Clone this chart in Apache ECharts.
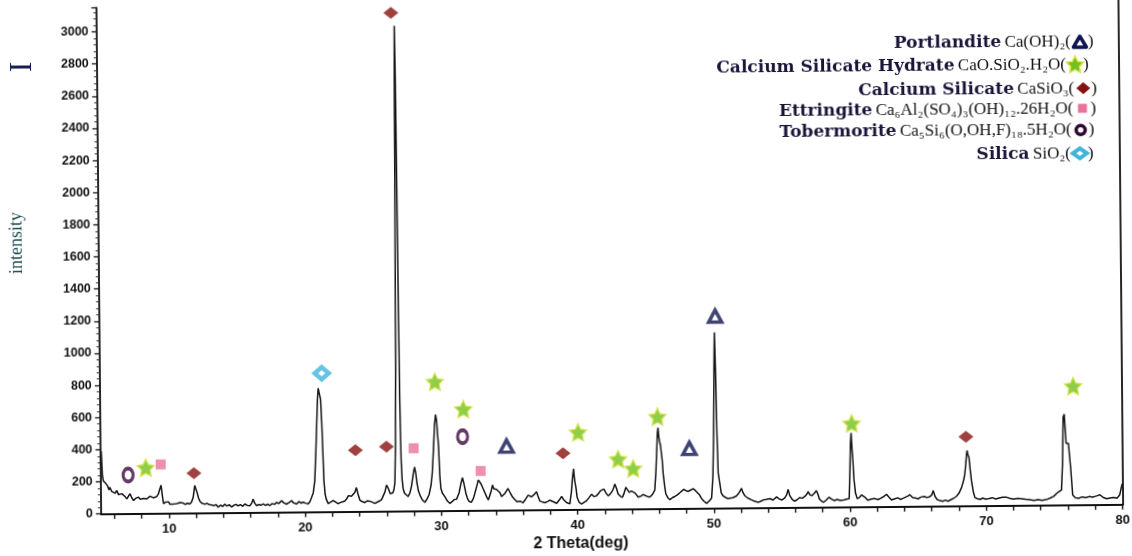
<!DOCTYPE html>
<html>
<head>
<meta charset="utf-8">
<script src="https://cdn.jsdelivr.net/npm/echarts/dist/echarts.min.js"></script>
<style>
  html, body { margin: 0; padding: 0; background: #fff; overflow: hidden; }
  /* the scanned diffractogram sits slightly tilted on the page */
  #xrd { width: 1132px; height: 556px; transform: rotate(-0.53deg); transform-origin: 566px 278px; }
</style>
</head>
<body>
<div id="xrd"></div>
<script>
// Diffraction angle (2θ, degrees) and measured intensity (counts)
const twoTheta = [
  5.00,5.06,5.13,5.20,5.27,5.38,5.50,5.60,5.68,5.80,5.93,6.05,6.17,6.30,6.42,6.55,6.67,6.80,6.91,7.03,7.15,7.28,7.40,7.55,7.65,7.77,7.90,8.01,8.15,8.28,8.38,8.50,8.62,8.74,8.86,8.98,9.10,9.22,9.33,9.43,9.52,9.60,9.75,9.87,9.97,
  10.07,10.20,10.33,10.45,10.58,10.70,10.80,10.92,11.05,11.20,11.35,11.53,11.66,11.78,11.90,11.98,12.07,12.17,12.27,12.40,12.52,12.64,12.80,12.95,13.13,13.30,13.45,13.61,13.78,13.95,14.10,14.25,14.42,14.60,14.75,14.92,15.08,15.25,15.42,15.57,15.75,15.94,16.08,16.18,16.30,16.43,16.60,16.75,16.92,17.10,17.25,17.41,17.58,17.75,17.90,18.05,18.18,18.27,18.45,18.63,18.80,19.00,19.15,19.37,19.55,19.70,19.85,
  20.05,20.22,20.35,20.47,20.60,20.72,20.82,20.90,20.97,21.03,21.09,21.14,21.20,21.27,21.33,21.39,21.47,21.55,21.69,21.85,22.06,22.20,22.42,22.60,22.75,22.91,23.05,23.18,23.28,23.40,23.52,23.65,23.77,23.88,24.02,24.20,24.38,24.55,24.75,24.93,25.12,25.24,25.38,25.48,25.60,25.73,25.86,25.98,26.07,26.15,26.25,26.34,26.44,26.52,26.60,26.67,26.73,26.79,26.83,26.86,26.90,26.95,27.01,27.07,27.13,27.20,27.30,27.42,27.56,27.70,27.81,27.95,28.05,28.13,28.22,28.32,28.42,28.60,28.79,28.95,29.10,29.25,29.35,29.45,29.55,29.63,29.70,29.76,29.83,29.90,29.97,
  30.08,30.26,30.45,30.62,30.80,30.95,31.12,31.30,31.45,31.56,31.66,31.80,31.92,32.04,32.20,32.35,32.46,32.60,32.72,32.83,32.95,33.07,33.20,33.32,33.45,33.56,33.66,33.76,33.85,33.93,34.05,34.17,34.30,34.42,34.55,34.66,34.78,34.90,35.05,35.23,35.40,35.57,35.80,36.00,36.20,36.37,36.50,36.62,36.80,36.99,37.10,37.23,37.40,37.60,37.80,37.95,38.09,38.28,38.46,38.65,38.83,39.00,39.19,39.33,39.43,39.55,39.63,39.72,39.80,39.88,39.97,
  40.12,40.29,40.48,40.66,40.85,41.03,41.20,41.39,41.55,41.69,41.82,41.93,42.10,42.25,42.40,42.57,42.66,42.74,42.86,42.98,43.15,43.30,43.42,43.55,43.67,43.79,43.95,44.08,44.22,44.45,44.65,44.80,44.94,45.12,45.31,45.50,45.67,45.76,45.83,45.90,45.95,46.00,46.05,46.12,46.19,46.24,46.30,46.40,46.48,46.62,46.78,46.95,47.14,47.30,47.51,47.65,47.80,47.95,48.12,48.30,48.49,48.65,48.78,48.95,49.10,49.28,49.47,49.65,49.84,49.95,
  50.03,50.09,50.15,50.21,50.27,50.34,50.45,50.55,50.69,50.90,51.05,51.18,51.40,51.67,51.85,51.96,52.04,52.15,52.28,52.50,52.77,53.00,53.26,53.45,53.63,53.85,54.12,54.35,54.61,54.80,55.00,55.20,55.35,55.46,55.58,55.75,55.92,56.10,56.30,56.50,56.70,56.85,56.93,57.05,57.20,57.38,57.54,57.65,57.75,57.90,58.05,58.25,58.45,58.65,58.85,59.05,59.30,59.55,59.75,59.94,
  60.02,60.07,60.12,60.18,60.24,60.30,60.40,60.53,60.70,60.85,60.97,61.10,61.30,61.55,61.80,62.05,62.30,62.50,62.68,62.85,63.05,63.25,63.50,63.70,63.90,64.10,64.25,64.40,64.60,64.80,65.00,65.20,65.45,65.65,65.85,66.00,66.11,66.25,66.40,66.60,66.80,67.00,67.20,67.40,67.60,67.83,68.00,68.19,68.35,68.44,68.52,68.58,68.62,68.68,68.76,68.85,68.93,69.05,69.17,69.35,69.55,69.75,69.95,
  70.20,70.45,70.70,70.95,71.20,71.50,71.75,72.00,72.30,72.60,72.90,73.20,73.50,73.80,74.10,74.40,74.70,74.95,75.17,75.35,75.53,75.62,75.70,75.78,75.84,75.90,76.00,76.07,76.15,76.22,76.35,76.55,76.80,77.05,77.30,77.55,77.80,78.10,78.35,78.60,78.85,79.10,79.35,79.60,79.80,79.94,80.00
];
const intensity = [
  300,390,240,205,208,189,175,150,165,140,134,128,145,120,113,125,134,105,92,110,124,98,82,95,88,103,90,82,95,86,92,100,108,113,98,92,105,120,150,176,110,61,70,66,72,
  57,64,58,66,60,70,67,58,63,55,62,57,70,97,172,160,128,95,75,62,70,55,60,52,50,45,52,36,48,40,54,42,50,36,46,52,43,50,40,54,45,43,60,84,58,43,50,46,53,44,52,43,55,50,62,55,66,72,58,51,60,72,58,51,66,56,62,
  55,51,65,90,120,195,380,552,700,770,765,780,700,552,380,195,110,80,52,60,71,60,50,58,62,67,80,100,109,96,99,120,150,110,71,62,56,66,64,58,50,51,62,67,72,82,120,164,150,133,110,102,115,133,180,420,900,1900,2700,3020,2700,1700,700,330,200,140,112,100,91,115,153,230,274,240,174,125,102,70,54,75,101,160,236,380,540,600,560,480,400,220,140,
  110,88,60,46,58,70,72,110,171,205,170,109,75,57,52,75,107,150,190,177,160,148,110,86,65,65,120,158,135,127,130,139,110,86,92,104,120,135,110,82,65,52,55,46,70,92,95,82,95,113,85,55,50,45,52,60,55,48,40,60,82,60,45,42,36,110,190,255,180,140,76,
  45,34,45,55,75,95,80,85,100,116,110,126,100,85,95,116,135,157,130,95,80,74,100,136,120,105,112,120,100,74,80,90,84,78,74,90,115,220,340,470,505,450,420,395,384,300,218,140,93,70,56,68,76,85,99,110,120,112,107,115,123,112,103,85,62,45,32,45,63,200,
  460,820,1095,860,480,220,155,95,76,65,60,56,65,76,95,110,123,95,76,62,50,42,35,42,49,52,57,48,67,55,48,60,80,114,75,52,40,48,62,58,70,85,98,80,73,88,104,80,52,40,31,45,62,50,42,48,42,45,50,52,
  250,400,462,360,280,176,90,52,60,75,83,60,42,48,52,45,55,65,77,60,42,48,55,45,52,60,66,73,55,52,48,58,62,55,60,70,98,60,42,35,31,38,31,40,48,62,80,114,160,197,260,320,345,320,301,220,156,90,52,45,40,48,42,
  45,50,42,48,52,52,45,40,45,42,38,35,31,36,31,35,45,55,73,85,94,250,549,565,470,384,390,384,300,228,62,45,42,50,45,52,48,55,62,45,37,42,45,40,60,114,130
];

// Peak assignments: [2θ, height of the marker]
const portlandite    = [[34.82, 399], [48.24, 374], [50.22, 1196]];
const cshHydrate     = [[8.32, 286], [29.60, 804], [31.67, 632], [40.08, 481], [43.00, 312], [44.10, 253], [45.92, 573], [60.17, 521], [76.45, 740]];
const calciumSilicate= [[11.85, 248], [23.72, 383], [26.00, 402], [26.62, 3101], [38.96, 351], [68.55, 431]];
const ettringite     = [[9.42, 305], [28.00, 391], [32.90, 246]];
const tobermorite    = [[7.02, 241], [31.60, 460]];
const silica         = [[21.30, 863]];

// Axis tick values
const yTickStep = 200;
const xLabelStep = 10;

const pattern = twoTheta.map((t, i) => [t, intensity[i]]);

const STAR = 'path://M50 0 L64.7 29.8 L97.6 34.5 L73.8 57.7 L79.4 90.5 L50 75 L20.6 90.5 L26.2 57.7 L2.4 34.5 L35.3 29.8 Z';

const markStyles = {
  triangle: { symbol: 'triangle', symbolSize: [13, 12], itemStyle: { color: '#ffffff', borderColor: '#0f1450', borderWidth: 3.5 } },
  star:     { symbol: STAR, symbolSize: 17, itemStyle: { color: '#72c21c', borderColor: '#d4e24a', borderWidth: 1.5 } },
  diamond:  { symbol: 'diamond', symbolSize: [15, 12], itemStyle: { color: '#86120f' } },
  square:   { symbol: 'rect', symbolSize: 10, itemStyle: { color: '#e8739b' } },
  ring:     { symbol: 'circle', symbolSize: [10, 13], itemStyle: { color: '#ffffff', borderColor: '#3c0a40', borderWidth: 3.5 } },
  cyan:     { symbol: 'diamond', symbolSize: [14, 12], itemStyle: { color: '#ffffff', borderColor: '#3fb5de', borderWidth: 4.5 } }
};

function markSeries(name, data, kind) {
  return Object.assign({
    name, type: 'scatter', data, xAxisIndex: 0, yAxisIndex: 0, z: 5, silent: true
  }, markStyles[kind]);
}

// Legend block at the upper right
const legendRows = [
  { name: 'Portlandite',              formula: 'Ca(OH)₂(',                   kind: 'triangle', y: 46.5,  cx: 1082 },
  { name: 'Calcium Silicate Hydrate', formula: 'CaO.SiO₂.H₂O(',              kind: 'star',     y: 69.8,  cx: 1077 },
  { name: 'Calcium Silicate',         formula: 'CaSiO₃(',                    kind: 'diamond',  y: 93.1,  cx: 1085 },
  { name: 'Ettringite',               formula: 'Ca₆Al₂(SO₄)₃(OH)₁₂.26H₂O(',  kind: 'square',   y: 113.1, cx: 1084 },
  { name: 'Tobermorite',              formula: 'Ca₅Si₆(O,OH,F)₁₈.5H₂O(',     kind: 'ring',     y: 134.8, cx: 1082 },
  { name: 'Silica',                   formula: 'SiO₂(',                      kind: 'cyan',     y: 158.1, cx: 1081 }
];

function starPoints(cx, cy, r) {
  const pts = [];
  for (let k = 0; k < 10; k++) {
    const a = -Math.PI / 2 + k * Math.PI / 5;
    const rr = k % 2 === 0 ? r : r * 0.5;
    pts.push([cx + rr * Math.cos(a), cy + rr * Math.sin(a)]);
  }
  return pts;
}

function legendMark(kind, cx, cy) {
  switch (kind) {
    case 'triangle':
      return { type: 'polygon', shape: { points: [[cx, cy - 5.5], [cx + 6.5, cy + 5.5], [cx - 6.5, cy + 5.5]] },
               style: { fill: '#ffffff', stroke: '#0f1450', lineWidth: 3.5, lineJoin: 'round' } };
    case 'star':
      return { type: 'polygon', shape: { points: starPoints(cx, cy, 9) },
               style: { fill: '#72c21c', stroke: '#d4e24a', lineWidth: 1.5 } };
    case 'diamond':
      return { type: 'polygon', shape: { points: [[cx, cy - 6], [cx + 7, cy], [cx, cy + 6], [cx - 7, cy]] },
               style: { fill: '#86120f' } };
    case 'square':
      return { type: 'rect', shape: { x: cx - 4.5, y: cy - 4.5, width: 9, height: 9 }, style: { fill: '#e8739b' } };
    case 'ring':
      return { type: 'circle', shape: { cx: cx, cy: cy, r: 4.5 }, style: { fill: '#ffffff', stroke: '#2c0830', lineWidth: 3.5 } };
    default:
      return { type: 'polygon', shape: { points: [[cx, cy - 5], [cx + 7, cy], [cx, cy + 5], [cx - 7, cy]] },
               style: { fill: '#ffffff', stroke: '#3fb5de', lineWidth: 4 } };
  }
}

const graphics = [];
legendRows.forEach(row => {
  graphics.push({
    type: 'text', x: row.cx - 9, y: row.y, z: 10,
    style: {
      text: '{n|' + row.name + '} {f|' + row.formula + '}',
      align: 'right', verticalAlign: 'middle',
      rich: {
        n: { fontFamily: 'DejaVu Serif', fontWeight: 'bold', fontSize: 17, fill: '#1a1538' },
        f: { fontFamily: 'Liberation Serif', fontSize: 17, fill: '#111111' }
      }
    }
  });
  graphics.push(Object.assign({ z: 10 }, legendMark(row.kind, row.cx, row.y)));
  graphics.push({
    type: 'text', x: row.cx + 8, y: row.y, z: 10,
    style: { text: ')', align: 'left', verticalAlign: 'middle', fontFamily: 'Liberation Serif', fontSize: 17, fill: '#111111' }
  });
});

// Axis titles
graphics.push({
  type: 'text', x: 25, y: 62, rotation: Math.PI / 2,
  style: { text: 'I', align: 'center', verticalAlign: 'middle', fontFamily: 'Liberation Serif', fontSize: 32, fill: '#151a52' }
});
graphics.push({
  type: 'text', x: 17, y: 238, rotation: Math.PI / 2,
  style: { text: 'intensity', align: 'center', verticalAlign: 'middle', fontFamily: 'Liberation Serif', fontSize: 18, fill: '#1d4a4e' }
});
graphics.push({
  type: 'text', x: 578.5, y: 544,
  style: { text: '2 Theta(deg)', align: 'center', verticalAlign: 'middle', fontFamily: 'Liberation Sans', fontWeight: 'bold', fontSize: 16, fill: '#111111' }
});

const axisColor = '#111111';
const gridBox = { top: 3.4, bottom: 46.3, right: 11.6 };

const option = {
  animation: false,
  backgroundColor: '#ffffff',
  grid: [
    Object.assign({ left: 98.8 }, gridBox),
    Object.assign({ left: 112.42 }, gridBox)   // carries the 2° tick marks, starting at 6°
  ],
  xAxis: [
    {
      gridIndex: 0, type: 'value', min: 5, max: 80, interval: 5,
      axisLine: { show: true, onZero: false, lineStyle: { color: axisColor, width: 1.8 } },
      axisTick: { show: false },
      splitLine: { show: false },
      axisLabel: {
        margin: 9, color: '#111111', fontFamily: 'Liberation Sans', fontWeight: 'bold', fontSize: 13,
        formatter: v => (v % xLabelStep === 0 ? String(v) : '')
      }
    },
    {
      gridIndex: 1, type: 'value', min: 6, max: 80, interval: 2,
      axisLine: { show: false },
      axisTick: { show: true, length: 5, lineStyle: { color: axisColor, width: 1.4 } },
      axisLabel: { show: false },
      splitLine: { show: false }
    }
  ],
  yAxis: [
    {
      gridIndex: 0, type: 'value', min: 0, max: 3150, interval: yTickStep,
      axisLine: { show: true, onZero: false, lineStyle: { color: axisColor, width: 1.8 } },
      axisTick: { show: true, length: 5, lineStyle: { color: axisColor, width: 1.3 } },
      minorTick: { show: true, splitNumber: 5, length: 3, lineStyle: { color: '#333333', width: 1 } },
      splitLine: { show: false },
      axisLabel: {
        margin: 8, showMaxLabel: false, color: '#111111',
        fontFamily: 'Liberation Sans', fontWeight: 'bold', fontSize: 12.5,
        formatter: v => String(v)
      }
    },
    {
      gridIndex: 0, type: 'value', min: 0, max: 3150, position: 'right',
      axisLine: { show: true, onZero: false, lineStyle: { color: axisColor, width: 1.8 } },
      axisTick: { show: false }, axisLabel: { show: false }, splitLine: { show: false }
    },
    { gridIndex: 1, type: 'value', min: 0, max: 3150, show: false }
  ],
  series: [
    {
      name: 'XRD pattern', type: 'line', data: pattern, xAxisIndex: 0, yAxisIndex: 0,
      symbol: 'none', z: 3, silent: true,
      lineStyle: { color: '#141414', width: 1.5 }
    },
    markSeries('Portlandite', portlandite, 'triangle'),
    markSeries('Calcium Silicate Hydrate', cshHydrate, 'star'),
    markSeries('Calcium Silicate', calciumSilicate, 'diamond'),
    markSeries('Ettringite', ettringite, 'square'),
    markSeries('Tobermorite', tobermorite, 'ring'),
    markSeries('Silica', silica, 'cyan')
  ],
  graphic: graphics
};

const chart = echarts.init(document.getElementById('xrd'), null, { renderer: 'canvas' });
chart.setOption(option);
</script>
</body>
</html>
